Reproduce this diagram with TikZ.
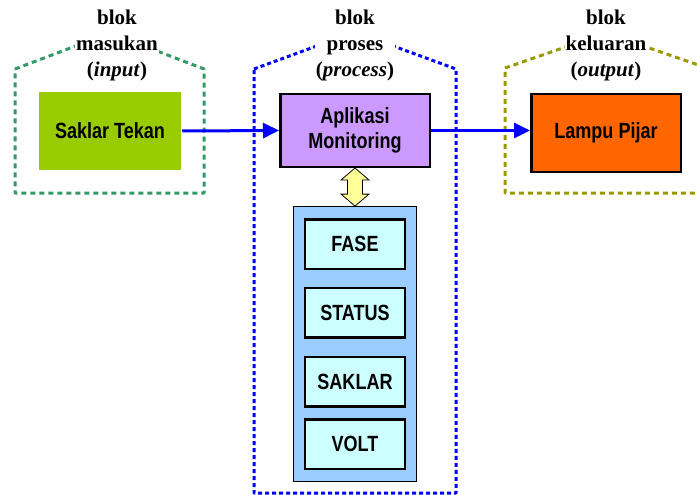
\documentclass[tikz,border=0pt]{standalone}
\usepackage{fontspec}
\setmainfont{Liberation Serif}
\newfontfamily\boxfont[FakeStretch=0.82]{Liberation Sans Bold}
\usetikzlibrary{arrows.meta,calc}
\definecolor{dgreen}{HTML}{339966}
\definecolor{olive}{HTML}{999900}
\definecolor{pblue}{HTML}{0000FF}
\definecolor{lgreen}{HTML}{99CC00}
\definecolor{lpurple}{HTML}{CC99FF}
\definecolor{orng}{HTML}{FF6600}
\definecolor{skyb}{HTML}{99CCFF}
\definecolor{lcyan}{HTML}{CCFFFF}
\definecolor{lyellow}{HTML}{FFFF99}
\begin{document}
\begin{tikzpicture}[x=1pt,y=-1pt,
  blockline/.style={line width=3pt, line join=round},
  lab/.style={fill=white, inner sep=1pt, align=center, anchor=north,
    font=\fontsize{21}{26}\selectfont\bfseries},
  box/.style={draw=black, line width=2.5pt, align=center, inner sep=0pt,
    font=\boxfont\fontsize{22}{25}\selectfont},
  small/.style={box, fill=lcyan, minimum width=100pt, minimum height=49.5pt},
  conn/.style={pblue, line width=3pt, -{Triangle[length=16pt,width=15pt]}}
]
\useasboundingbox (0,0) rectangle (697,495);
\fill[white] (0,0) rectangle (697,495);

% dashed blocks
\draw[blockline, dgreen, dash pattern=on 5pt off 4pt]
  (15,69) -- (110,33) -- (204,69) -- (204,193) -- (15,193) -- cycle;
\draw[blockline, pblue, dash pattern=on 4pt off 3pt]
  (254,69) -- (355,32) -- (456,69) -- (456,493) -- (254,493) -- cycle;
\draw[blockline, olive, dash pattern=on 5pt off 4pt]
  (505,68) -- (606,33) -- (707,68) -- (707,193) -- (505,193) -- cycle;

% labels
\node[lab] (inlab) at (117,8.8) {blok\\masukan\\(\textit{input})};
\node[lab] (prlab) at (355,8.8) {blok\\proses\\(\textit{process})};
\node[lab] (outlab) at (606,8.8) {blok\\keluaran\\(\textit{output})};

% boxes
\node[box, draw=none, fill=lgreen, minimum width=142pt, minimum height=78pt] (saklar) at (110,131) {Saklar Tekan};
\node[box, fill=lpurple, minimum width=149.5pt, minimum height=72.5pt] (app) at (355,130.5) {Aplikasi\\Monitoring};
\node[box, fill=orng, minimum width=149.5pt, minimum height=77.5pt] (lamp) at (606,133) {Lampu Pijar};

\node[draw=black, line width=0.8pt, fill=skyb, minimum width=123pt, minimum height=275pt, inner sep=0pt] (panel) at (355,344) {};
\node[small] (fase) at (355,244) {FASE};
\node[small] (status) at (355,312.5) {STATUS};
\node[small] (sak) at (355,381.5) {SAKLAR};
\node[small] (volt) at (355,444) {VOLT};

% connectors
\draw[conn] (saklar.east) -- (app.west);
\draw[conn] (app.east) -- (app.east -| lamp.west);

% double arrow
\coordinate (ya) at (app.south);
\coordinate (yb) at (panel.north);
\draw[fill=lyellow, line width=0.8pt, line join=miter]
  (ya) -- ($(ya)+(14,12)$) -- ($(ya)+(7.5,12)$) -- ($(yb)+(7.5,-12)$)
  -- ($(yb)+(14,-12)$) -- (yb) -- ($(yb)+(-14,-12)$) -- ($(yb)+(-7.5,-12)$)
  -- ($(ya)+(-7.5,12)$) -- ($(ya)+(-14,12)$) -- cycle;
\end{tikzpicture}
\end{document}
